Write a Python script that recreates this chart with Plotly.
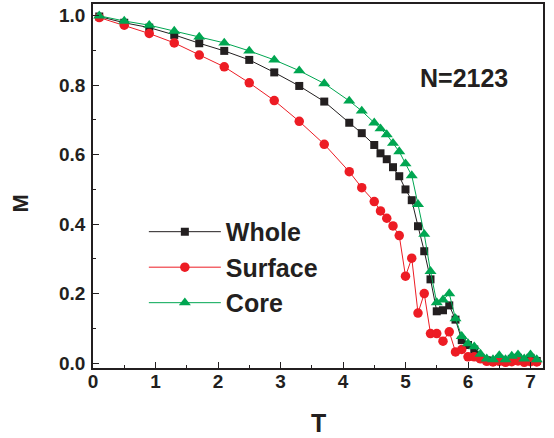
import plotly.graph_objects as go

T = [0.1, 0.5, 0.9, 1.3, 1.7, 2.1, 2.5, 2.9, 3.3, 3.7, 4.1, 4.3, 4.5, 4.6, 4.7, 4.8, 4.9,
     5.0, 5.1, 5.2, 5.3, 5.4, 5.5, 5.6, 5.7, 5.8, 5.9, 6.0, 6.1,
     6.2, 6.3, 6.4, 6.5, 6.6, 6.7, 6.8, 6.9, 7.0, 7.1]

whole = [0.998, 0.980, 0.966, 0.945, 0.921, 0.899, 0.873, 0.837, 0.798, 0.753, 0.692, 0.662,
         0.628, 0.604, 0.587, 0.564, 0.538,
         0.500, 0.469, 0.394, 0.322, 0.241, 0.149, 0.152, 0.166, 0.125, 0.066, 0.052, 0.039,
         0.015, 0.008, 0.006, 0.012, 0.005, 0.012, 0.015, 0.008, 0.015, 0.006]

surface = [0.995, 0.973, 0.949, 0.922, 0.887, 0.853, 0.807, 0.756, 0.696, 0.630, 0.551, 0.505,
           0.465, 0.438, 0.417, 0.395, 0.367,
           0.250, 0.302, 0.144, 0.200, 0.085, 0.085, 0.063, 0.090, 0.032, 0.039, 0.018, 0.018,
           0.012, 0.005, 0.003, 0.005, 0.002, 0.004, 0.006, 0.002, 0.004, 0.003]

core = [1.000, 0.985, 0.973, 0.956, 0.939, 0.922, 0.899, 0.873, 0.842, 0.805, 0.755, 0.726,
        0.692, 0.675, 0.658, 0.633, 0.609,
        0.574, 0.540, 0.457, 0.371, 0.264, 0.174, 0.182, 0.200, 0.128, 0.077, 0.056, 0.047,
        0.026, 0.012, 0.010, 0.022, 0.010, 0.020, 0.024, 0.012, 0.024, 0.010]

series_names = ["Whole", "Surface", "Core"]
label_text = "N=2123"

FONT = "Liberation Sans, Arial, Helvetica, sans-serif"
DARK = "#231f20"

fig = go.Figure()
styles = [
    (whole, "#231f20", "square", 8),
    (surface, "#ed1c24", "circle", 9.5),
    (core, "#00a651", "triangle-up", 10.5),
]
for name, (vals, col, sym, sz) in zip(series_names, styles):
    fig.add_trace(go.Scatter(
        x=T, y=vals, name=name, mode="lines+markers",
        line=dict(color=col, width=1),
        marker=dict(symbol=sym, size=sz, color=col, line=dict(width=0)),
    ))

axis_common = dict(
    showline=True, linecolor=DARK, linewidth=1.5, mirror=True,
    ticks="inside", ticklen=6, tickwidth=1.2, tickcolor=DARK,
    showgrid=False, zeroline=False,
    tickfont=dict(family=FONT, size=19, color=DARK, weight="bold"),
)
minor_common = dict(ticks="inside", ticklen=3.5, tickwidth=1.2, tickcolor=DARK, showgrid=False)

fig.update_xaxes(range=[0, 7.2], dtick=1, tick0=0, ticklabelstandoff=-5,
                 minor=dict(dtick=0.5, **minor_common), **axis_common)
fig.update_yaxes(range=[-0.0143, 1.034], dtick=0.2, tick0=0, tickformat=".1f",
                 ticklabelstandoff=2,
                 minor=dict(dtick=0.1, **minor_common), **axis_common)

fig.add_annotation(text=label_text, x=5.93, y=0.822, xref="x", yref="y", showarrow=False,
                   font=dict(family=FONT, size=25, color=DARK, weight="bold"))
fig.add_annotation(text="T", x=0.5, y=-0.150, xref="paper", yref="paper", showarrow=False,
                   xanchor="center", yanchor="middle",
                   font=dict(family=FONT, size=25, color=DARK, weight="bold"))
fig.add_annotation(text="M", x=-0.161, y=0.451, xref="paper", yref="paper", showarrow=False,
                   textangle=-90, xanchor="center", yanchor="middle",
                   font=dict(family=FONT, size=22, color=DARK, weight="bold"))

fig.update_layout(
    width=554, height=438,
    margin=dict(l=93, r=11, t=2, b=70),
    paper_bgcolor="white", plot_bgcolor="white",
    showlegend=True,
    legend=dict(x=0.113, y=0.437, xanchor="left", yanchor="top",
                bgcolor="rgba(0,0,0,0)", itemwidth=72,
                font=dict(family=FONT, size=25, color=DARK, weight="bold"),
                tracegroupgap=0),
)

fig.write_html("out.html")
